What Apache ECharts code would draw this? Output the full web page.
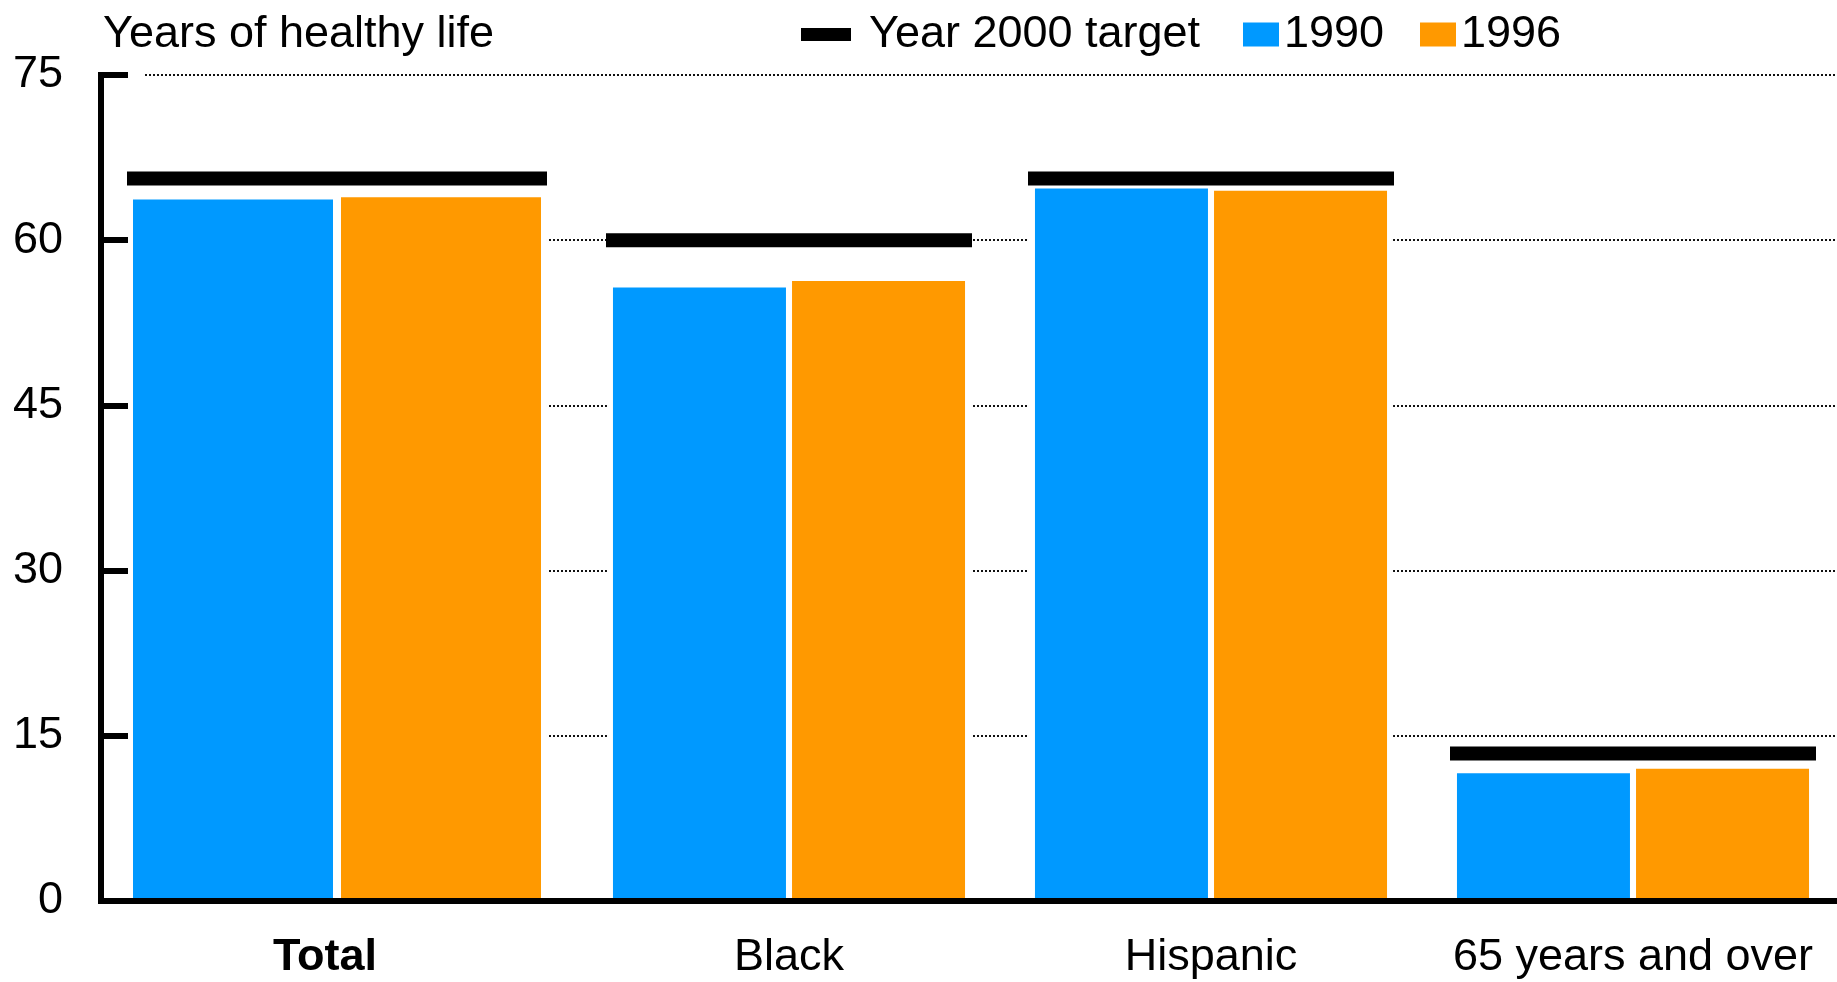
<!DOCTYPE html>
<html>
<head>
<meta charset="utf-8">
<script src="https://cdn.jsdelivr.net/npm/echarts@6/dist/echarts.min.js"></script>
<style>
html,body{margin:0;padding:0;background:#fff;}
#chart{width:1837px;height:982px;}
</style>
</head>
<body>
<div id="chart"></div>
<script>
// ---- data ----
const categories = ['Total', 'Black', 'Hispanic', '65 years and over'];
const vals1990 = [63.7, 55.7, 64.7, 11.6];
const vals1996 = [63.9, 56.3, 64.5, 12.0];
const targets = [65.6, 60.0, 65.6, 13.4];
const yMin = 0, yMax = 75, yStep = 15;
const titleText = 'Years of healthy life';
const legendNames = ['Year 2000 target', '1990', '1996'];

// ---- style ----
const FONT = "'Liberation Sans', Arial, sans-serif";
const BLUE = '#0099FF', ORANGE = '#FF9900';
const TOP = 75, BOTTOM = 81;

const catA = categories.slice(0, 1), catB = categories.slice(1);

const chart = echarts.init(document.getElementById('chart'), null, {renderer: 'canvas'});

function catAxis(grid, data, visible, extra) {
  return Object.assign({
    type: 'category', gridIndex: grid, data: data, show: visible, z: 10,
    axisLine: {show: true, lineStyle: {color: '#000', width: 6, cap: 'square'}},
    axisTick: {show: false},
    axisLabel: {interval: 0, fontSize: 45, color: '#000', fontFamily: FONT, margin: 34},
    splitLine: {show: false}
  }, extra || {});
}
function valAxis(grid, extra) {
  return Object.assign({
    type: 'value', gridIndex: grid, min: yMin, max: yMax, interval: yStep, z: 10
  }, extra || {});
}

const option = {
  animation: false,
  backgroundColor: '#fff',
  title: {
    text: titleText, left: 103, top: 12, padding: 0,
    textStyle: {fontSize: 45, fontWeight: 'normal', color: '#000', fontFamily: FONT}
  },
  legend: [
    {data: [{name: legendNames[0], icon: 'rect'}], left: 801, top: 12, padding: 0,
     itemWidth: 50, itemHeight: 13, selectedMode: false,
     itemStyle: {color: '#000', opacity: 1},
     textStyle: {fontSize: 45, color: '#000', fontFamily: FONT, padding: [0, 0, 0, 13]}},
    {data: [{name: legendNames[1], icon: 'rect'}], left: 1243, top: 12, padding: 0,
     itemWidth: 36, itemHeight: 24, selectedMode: false,
     textStyle: {fontSize: 45, color: '#000', fontFamily: FONT}},
    {data: [{name: legendNames[2], icon: 'rect'}], left: 1420, top: 12, padding: 0,
     itemWidth: 36, itemHeight: 24, selectedMode: false,
     textStyle: {fontSize: 45, color: '#000', fontFamily: FONT}}
  ],
  grid: [
    {left: 101, width: 472, top: TOP, bottom: BOTTOM, containLabel: false, outerBoundsMode: 'none'},
    {left: 578, width: 1266, top: TOP, bottom: BOTTOM, containLabel: false, outerBoundsMode: 'none'},
    {left: 145, right: 0, top: TOP, bottom: BOTTOM, containLabel: false, outerBoundsMode: 'none'}
  ],
  xAxis: [
    catAxis(0, catA, true, {axisLabel: {interval: 0, fontSize: 45, fontWeight: 'bold', color: '#000', fontFamily: FONT, margin: 34, padding: [0, 24, 0, 0]}}),
    catAxis(0, catA, false),
    catAxis(1, catB, true),
    catAxis(1, catB, false),
    {type: 'value', gridIndex: 2, min: 0, max: 1, show: false}
  ],
  yAxis: [
    valAxis(0, {
      axisLine: {show: true, lineStyle: {color: '#000', width: 6, cap: 'square'}},
      axisTick: {show: true, inside: true, length: 27, lineStyle: {color: '#000', width: 6}},
      axisLabel: {fontSize: 45, color: '#000', fontFamily: FONT, margin: 38},
      splitLine: {show: false}
    }),
    valAxis(1, {show: false, splitLine: {show: false}}),
    valAxis(2, {
      z: 0,
      axisLine: {show: false}, axisTick: {show: false}, axisLabel: {show: false},
      splitLine: {show: true, lineStyle: {color: '#111', width: 2, type: [2, 2]}}
    })
  ],
  series: [
    // white halos that keep gridlines clear of the bars
    {name: 'haloA1990', type: 'bar', xAxisIndex: 1, yAxisIndex: 0, data: vals1990.slice(0, 1),
     barWidth: 212, barGap: '-1.9%', itemStyle: {color: '#fff'}, silent: true, z: 1},
    {name: 'haloA1996', type: 'bar', xAxisIndex: 1, yAxisIndex: 0, data: vals1996.slice(0, 1),
     barWidth: 212, barGap: '-1.9%', itemStyle: {color: '#fff'}, silent: true, z: 1},
    {name: 'haloB1990', type: 'bar', xAxisIndex: 3, yAxisIndex: 1, data: vals1990.slice(1),
     barWidth: 185, barGap: '-3.2%', itemStyle: {color: '#fff'}, silent: true, z: 1},
    {name: 'haloB1996', type: 'bar', xAxisIndex: 3, yAxisIndex: 1, data: vals1996.slice(1),
     barWidth: 185, barGap: '-3.2%', itemStyle: {color: '#fff'}, silent: true, z: 1},
    // bars
    {name: '1990', type: 'bar', xAxisIndex: 0, yAxisIndex: 0, data: vals1990.slice(0, 1),
     barWidth: 200, barGap: '4%', itemStyle: {color: BLUE}, z: 2},
    {name: '1996', type: 'bar', xAxisIndex: 0, yAxisIndex: 0, data: vals1996.slice(0, 1),
     barWidth: 200, barGap: '4%', itemStyle: {color: ORANGE}, z: 2},
    {name: '1990', type: 'bar', xAxisIndex: 2, yAxisIndex: 1, data: vals1990.slice(1),
     barWidth: 173, barGap: '3.5%', itemStyle: {color: BLUE}, z: 2},
    {name: '1996', type: 'bar', xAxisIndex: 2, yAxisIndex: 1, data: vals1996.slice(1),
     barWidth: 173, barGap: '3.5%', itemStyle: {color: ORANGE}, z: 2},
    // targets
    {name: 'Year 2000 target', type: 'scatter', xAxisIndex: 0, yAxisIndex: 0, data: targets.slice(0, 1),
     symbol: 'rect', symbolSize: [420, 14], itemStyle: {color: '#000', opacity: 1}, z: 5},
    {name: 'Year 2000 target', type: 'scatter', xAxisIndex: 2, yAxisIndex: 1, data: targets.slice(1),
     symbol: 'rect', symbolSize: [366, 14], itemStyle: {color: '#000', opacity: 1}, z: 5}
  ]
};
chart.setOption(option);
</script>
</body>
</html>
